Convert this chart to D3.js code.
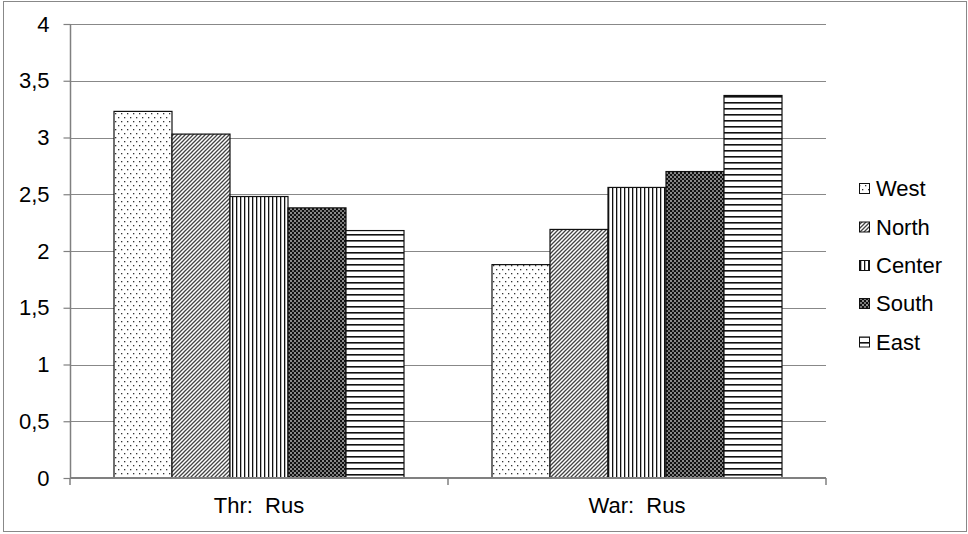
<!DOCTYPE html>
<html><head><meta charset="utf-8">
<script src="https://cdn.jsdelivr.net/npm/d3@7/dist/d3.min.js"></script>
<style>body{margin:0;background:#fff}svg{display:block}text{font-family:"Liberation Sans",Arial,sans-serif;fill:#000}</style>
</head><body><svg id="c" width="968" height="534"></svg>
<script>
const categories = ["Thr:  Rus", "War:  Rus"];
const seriesNames = ["West", "North", "Center", "South", "East"];
const West = [3.23, 1.88];
const North = [3.03, 2.19];
const Center = [2.48, 2.56];
const South = [2.38, 2.70];
const East = [2.18, 3.37];
const seriesValues = [West, North, Center, South, East];
const yTicks = [0, 0.5, 1, 1.5, 2, 2.5, 3, 3.5, 4];
const yTickLabels = ["0", "0,5", "1", "1,5", "2", "2,5", "3", "3,5", "4"];

const svg = d3.select("#c");
const defs = svg.append("defs");
const pats = ["pWest", "pNorth", "pCenter", "pSouth", "pEast"];
const FS = "22px";

// West: sparse dots
let p = defs.append("pattern").attr("id", "pWest").attr("patternUnits", "userSpaceOnUse").attr("width", 6).attr("height", 8);
p.append("rect").attr("width", 6).attr("height", 8).attr("fill", "#fff");
p.append("rect").attr("x", 1).attr("y", 1).attr("width", 1.3).attr("height", 1.3).attr("fill", "#333");
p.append("rect").attr("x", 4).attr("y", 5).attr("width", 1.3).attr("height", 1.3).attr("fill", "#333");
// North: diagonal stripes
p = defs.append("pattern").attr("id", "pNorth").attr("patternUnits", "userSpaceOnUse").attr("width", 4).attr("height", 4);
p.append("rect").attr("width", 4).attr("height", 4).attr("fill", "#fff");
p.append("path").attr("d", "M-1,1 L1,-1 M0,4 L4,0 M3,5 L5,3").attr("stroke", "#444").attr("stroke-width", 1.3);
// Center: vertical lines
p = defs.append("pattern").attr("id", "pCenter").attr("patternUnits", "userSpaceOnUse").attr("width", 4).attr("height", 4);
p.append("rect").attr("width", 4).attr("height", 4).attr("fill", "#fff");
p.append("rect").attr("x", 0).attr("width", 1.3).attr("height", 4).attr("fill", "#111");
// South: dark weave
p = defs.append("pattern").attr("id", "pSouth").attr("patternUnits", "userSpaceOnUse").attr("width", 4).attr("height", 4);
p.append("rect").attr("width", 4).attr("height", 4).attr("fill", "#777");
p.append("rect").attr("x", 0).attr("y", 0).attr("width", 2).attr("height", 2).attr("fill", "#111");
p.append("rect").attr("x", 2).attr("y", 2).attr("width", 2).attr("height", 2).attr("fill", "#111");
p.append("rect").attr("x", 2.5).attr("y", 0.5).attr("width", 1).attr("height", 1).attr("fill", "#ccc");
// East: horizontal lines
p = defs.append("pattern").attr("id", "pEast").attr("patternUnits", "userSpaceOnUse").attr("width", 6).attr("height", 6);
p.append("rect").attr("width", 6).attr("height", 6).attr("fill", "#fff");
p.append("rect").attr("y", 0).attr("width", 6).attr("height", 1.6).attr("fill", "#111");

// outer border
svg.append("rect").attr("x", 3.5).attr("y", 1.5).attr("width", 963).attr("height", 530)
  .attr("fill", "none").attr("stroke", "#888").attr("stroke-width", 1);

const pL = 70, pR = 826, pT = 24, pB = 478;
const x0 = d3.scaleBand().domain(categories).range([pL, pR]).paddingInner(0).paddingOuter(0);
const x1 = d3.scaleBand().domain(seriesNames).range([44, x0.bandwidth() - 44]).padding(0);
const y = d3.scaleLinear().domain([0, 4]).range([pB, pT]);

// gridlines
svg.append("g").selectAll("line").data(yTicks.filter(d => d > 0)).join("line")
  .attr("x1", pL).attr("x2", pR)
  .attr("y1", d => Math.round(y(d)) + 0.5).attr("y2", d => Math.round(y(d)) + 0.5)
  .attr("stroke", "#888").attr("stroke-width", 1);

// bars
const g = svg.append("g");
categories.forEach((c, ci) => {
  seriesNames.forEach((s, si) => {
    const v = seriesValues[si][ci];
    g.append("rect")
      .attr("x", x0(c) + x1(s)).attr("y", y(v))
      .attr("width", x1.bandwidth()).attr("height", y(0) - y(v))
      .attr("fill", "url(#" + pats[si] + ")")
      .attr("stroke", "#111").attr("stroke-width", 1.2);
  });
});

// y axis
const yAxis = d3.axisLeft(y).tickValues(yTicks).tickSize(7).tickPadding(14)
  .tickFormat((d, i) => yTickLabels[i]);
const ya = svg.append("g").attr("transform", `translate(${pL + 0.5},0)`).call(yAxis);
ya.select(".domain").attr("stroke", "#808080").attr("stroke-width", 1.5).attr("d", `M0,${pT}V${pB}`);
ya.selectAll(".tick line").attr("stroke", "#808080").attr("stroke-width", 1.2);
ya.selectAll(".tick text").style("font-size", FS).attr("font-family", null);

// x axis
const xa = svg.append("g").attr("transform", `translate(0,${pB})`);
xa.append("line").attr("x1", pL).attr("x2", pR).attr("y1", 0).attr("y2", 0)
  .attr("stroke", "#808080").attr("stroke-width", 2);
xa.selectAll("line.t").data([pL, x0(categories[1]), pR]).join("line").attr("class", "t")
  .attr("x1", d => d).attr("x2", d => d).attr("y1", 0).attr("y2", 7)
  .attr("stroke", "#808080").attr("stroke-width", 1.5);
xa.selectAll("text").data(categories).join("text")
  .attr("x", d => x0(d) + x0.bandwidth() / 2).attr("y", 35)
  .attr("text-anchor", "middle").style("font-size", FS).style("white-space", "pre")
  .attr("xml:space", "preserve").text(d => d);

// legend
const lg = svg.append("g");
const legY = [188.5, 227, 265.5, 303.5, 342];
seriesNames.forEach((s, i) => {
  lg.append("rect").attr("x", 859.5).attr("y", legY[i] - 5).attr("width", 10).attr("height", 10)
    .attr("fill", "url(#" + pats[i] + ")").attr("stroke", "#111").attr("stroke-width", 1);
  lg.append("text").attr("x", 876).attr("y", legY[i]).attr("dy", "0.36em")
    .style("font-size", FS).text(s);
});
</script></body></html>
